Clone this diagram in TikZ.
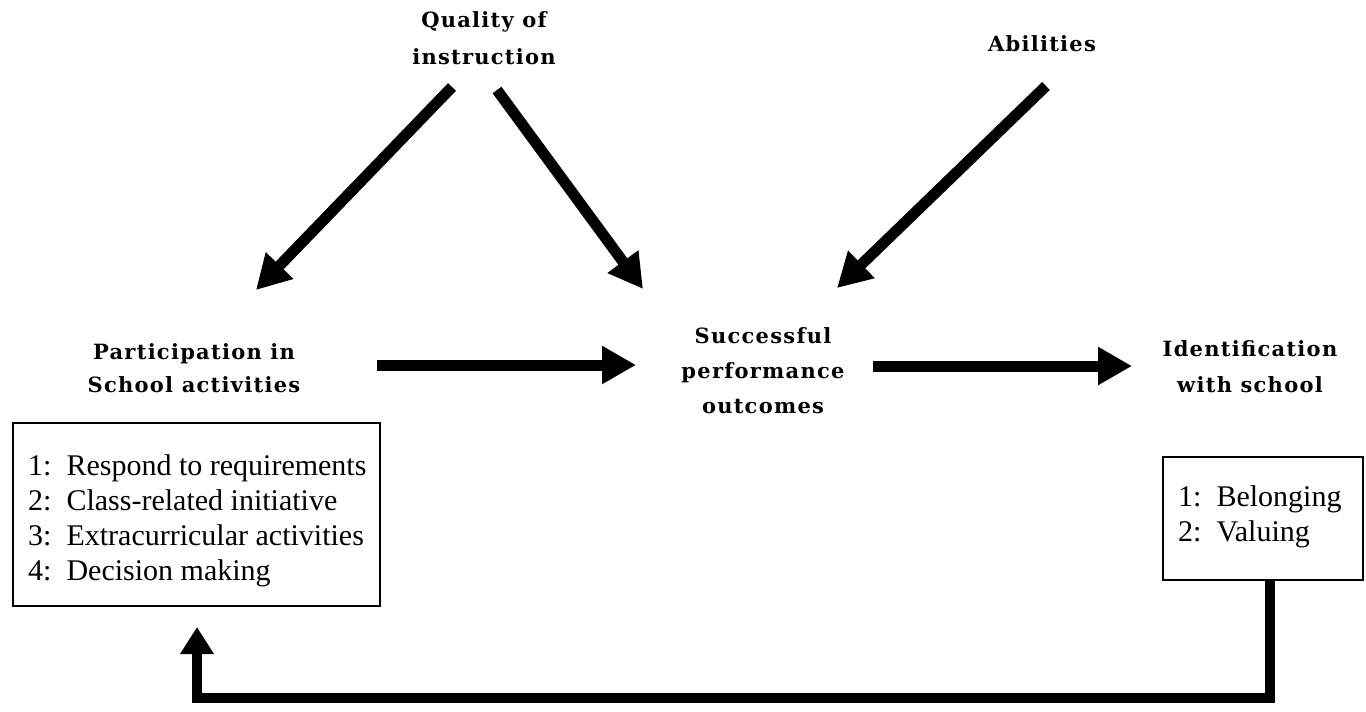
\documentclass[tikz,border=0pt]{standalone}
\usepackage{fontspec}
\setmainfont{Liberation Serif}
\newfontfamily\titlefont[LetterSpace=6]{DejaVu Serif}
\usetikzlibrary{arrows.meta}
\begin{document}
\begin{tikzpicture}[x=1pt,y=-1pt,
  title/.style={font=\titlefont\bfseries\fontsize{21}{#1}\selectfont, align=center, inner sep=0pt},
  title/.default=35,
  boxframe/.style={draw, line width=2pt, inner sep=0pt},
  listtext/.style={font=\fontsize{30}{35}\selectfont, align=left, inner sep=0pt, anchor=north west},
  bigarrow/.style={line width=11pt, -{Triangle[length=34pt,width=36pt]}},
  fbarrow/.style={line width=10pt, -{Triangle[length=27pt,width=32pt]}}]
\useasboundingbox (0,0) rectangle (1366,712);
\node[title=37] (qual) at (484,38) {Quality of\\instruction};
\node[title] (abil) at (1042,44) {Abilities};
\node[title=33] (part) at (194,368.5) {Participation in\\School activities};
\node[title] (succ) at (763,370.5) {Successful\\performance\\outcomes};
\node[title=36] (iden) at (1250,367) {Identification\\with school};
\node[boxframe, minimum width=367pt, minimum height=183pt] (pbox) at (196.5,514.5) {};
\node[listtext] (plist) at (28,454)
  {1:\ \ Respond to requirements\\2:\ \ Class-related initiative\\3:\ \ Extracurricular activities\\4:\ \ Decision making};
\node[boxframe, minimum width=200pt, minimum height=123pt] (ibox) at (1263,518.5) {};
\node[listtext] (ilist) at (1178,485)
  {1:\ \ Belonging\\2:\ \ Valuing};
\coordinate (q1) at (452,87);
\coordinate (q1e) at (256,290);
\coordinate (q2) at (497,90);
\coordinate (q2e) at (643,289);
\coordinate (a1) at (1046,86);
\coordinate (a1e) at (837,288);
\coordinate (h1) at (377,365);
\coordinate (h1e) at (636,365);
\coordinate (h2) at (873,366);
\coordinate (h2e) at (1132,366);
\draw[bigarrow] (q1) -- (q1e);
\draw[bigarrow] (q2) -- (q2e);
\draw[bigarrow] (a1) -- (a1e);
\draw[bigarrow] (h1) -- (h1e);
\draw[bigarrow] (h2) -- (h2e);
\coordinate (fbstart) at (1270,580);
\coordinate (fbtip) at (197,627);
\draw[fbarrow] (fbstart) -- (1270,698) -- (197,698) -- (fbtip);
\end{tikzpicture}
\end{document}
